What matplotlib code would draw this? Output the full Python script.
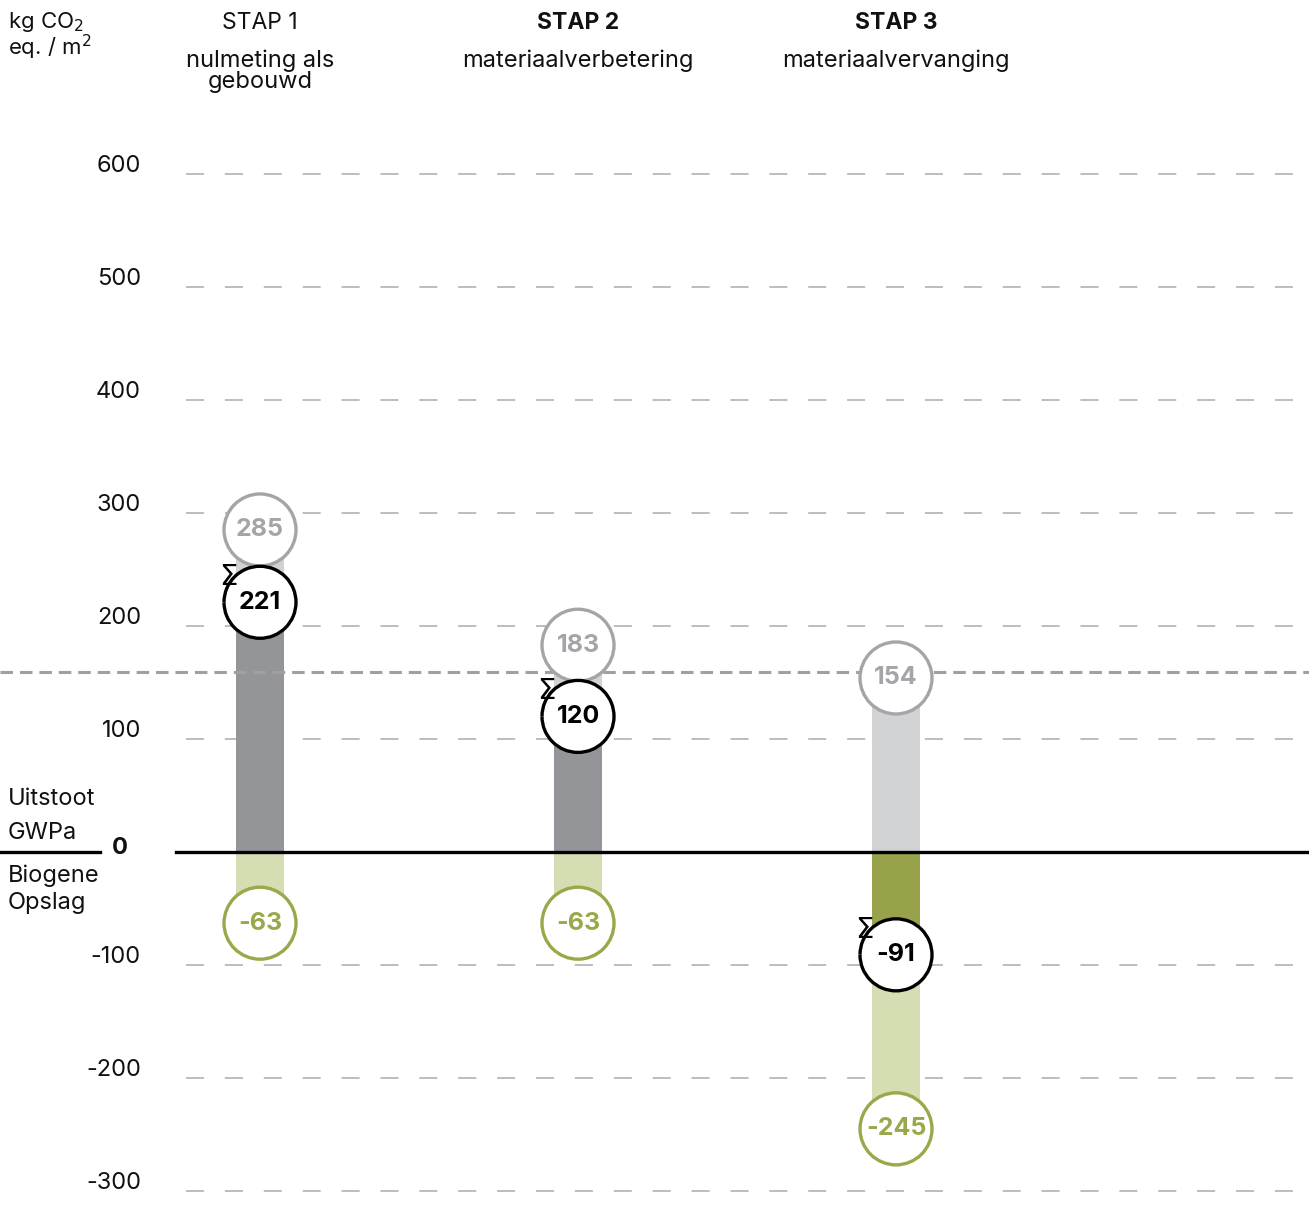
import matplotlib.pyplot as plt
from matplotlib.patches import Ellipse, Arc

plt.rcParams['font.family'] = ['Inter', 'DejaVu Sans']
plt.rcParams['lines.scale_dashes'] = False

# data
steps = ['STAP 1', 'STAP 2', 'STAP 3']
subtitles = ['nulmeting als\ngebouwd', 'materiaalverbetering', 'materiaalvervanging']
emission = [285, 183, 154]
biogenic = [-63, -63, -245]
net = [221, 120, -91]
reference = 159
yticks = [600, 500, 400, 300, 200, 100, -100, -200, -300]

LGRAY = '#d1d2d4'
DGRAY = '#939598'
LGREEN = '#d5deb3'
DGREEN = '#97a24a'
CGRAY = '#a3a5a8'
CGREEN = '#9aa84a'

W, H = 1309, 1205
fig = plt.figure(figsize=(W / 100, H / 100), dpi=100)
ax = fig.add_axes([0, 0, 1, 1])

# pixel scale: category spacing 318 px, 1.13 px per unit
xpx0, xstep = 260, 318
ypx0, yscale = 852, 1.13
ax.set_xlim(-xpx0 / xstep, (W - xpx0) / xstep)
ax.set_ylim((ypx0 - H) / yscale, ypx0 / yscale)
ax.axis('off')

rx = 36 / xstep * 2
ry = 36 / yscale * 2
bw = 48 / xstep

for v in yticks:
    ax.axhline(v, xmin=186 / W, xmax=1, color='#b8b8b8', lw=1.3,
               dashes=(13, 15), zorder=1)
    ax.text((141 - xpx0) / xstep, v + 8 / yscale, str(v), ha='right',
            va='center', fontsize=17, color='#111111')

ax.text((128 - xpx0) / xstep, 4 / yscale, '0', ha='right', va='center',
        fontsize=17, fontweight='bold', color='#111111')

for i in range(3):
    ax.bar(i, emission[i], width=bw, color=LGRAY, zorder=2)
    ax.bar(i, biogenic[i], width=bw, color=LGREEN, zorder=2)
    if net[i] >= 0:
        ax.bar(i, net[i], width=bw, color=DGRAY, zorder=3)
    else:
        ax.bar(i, net[i], width=bw, color=DGREEN, zorder=3)

ax.axhline(0, xmin=176 / W, xmax=1, color='black', lw=2.4, zorder=4)
ax.axhline(0, xmin=0, xmax=100 / W, color='black', lw=2.4, zorder=4)
ax.axhline(reference, color='#a0a0a0', lw=2.2, dashes=(9, 5), zorder=4)


def ring(x, y, label, ec, tc):
    ax.add_patch(Ellipse((x, y), rx, ry, facecolor='white', edgecolor=ec,
                         lw=2.4, zorder=5))
    ax.text(x, y, label, ha='center', va='center', fontsize=18,
            fontweight='bold', color=tc, zorder=6)


for i in range(3):
    ring(i, emission[i], str(emission[i]), CGRAY, CGRAY)
    ring(i, biogenic[i], str(biogenic[i]), CGREEN, CGREEN)
    # sum circle with a break for the sigma
    ax.add_patch(Ellipse((i, net[i]), rx, ry, facecolor='white',
                         edgecolor='none', zorder=5))
    ax.add_patch(Arc((i, net[i]), rx, ry, theta1=168, theta2=118,
                     color='black', lw=2.4, zorder=6))
    ax.text(i, net[i], str(net[i]), ha='center', va='center', fontsize=18,
            fontweight='bold', color='black', zorder=7)
    ax.text(i - 32 / xstep, net[i] + 25 / yscale, 'Σ', ha='center',
            va='center', fontsize=21, color='black',
            family='DejaVu Sans', zorder=7)

# headers
for i in range(3):
    ax.text(i, (ypx0 - 23) / yscale, steps[i], ha='center', va='center',
            fontsize=16.5, fontweight='normal' if i == 0 else 'bold',
            color='#111111')
    ax.text(i, (ypx0 - 49) / yscale, subtitles[i], ha='center', va='top',
            fontsize=17, linespacing=0.95, color='#111111')

fig.text(8 / W, 1 - 22 / H, 'kg CO$_2$', ha='left', va='center', fontsize=16,
         color='#111111')
fig.text(8 / W, 1 - 47 / H, 'eq. / m$^2$', ha='left', va='center', fontsize=16,
         color='#111111')

for txt, ypx in [('Uitstoot', 799), ('GWPa', 833), ('Biogene', 876), ('Opslag', 903)]:
    fig.text(8 / W, 1 - ypx / H, txt, ha='left', va='center', fontsize=17,
             color='#111111')

fig.savefig('out.png', dpi=100)
